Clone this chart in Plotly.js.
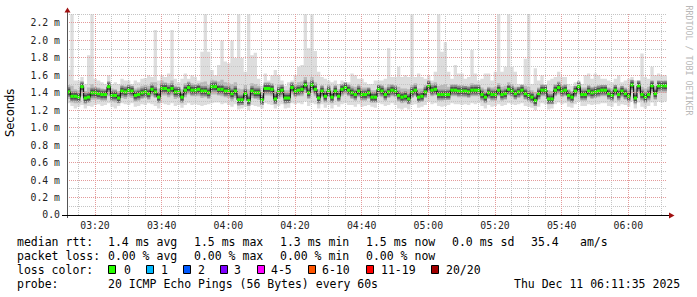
<!DOCTYPE html>
<html><head><meta charset="utf-8">
<script src="https://cdn.plot.ly/plotly-3.0.1.min.js"></script>
<style>html,body{margin:0;padding:0;background:#fff}#chart{width:697px;height:297px}</style>
</head><body><div id="chart"></div>
<script>
// ---- data (ms) : one sample per 60 s, 03:11:36 .. 06:11:36 ----
const startUTC = Date.UTC(2025, 11, 11, 3, 11, 36);
const stepMs = 60000;

const medianRtt = [
1.41,1.36,1.36,1.35,1.47,1.34,1.35,1.40,1.40,1.39,
1.38,1.38,1.47,1.37,1.37,1.34,1.42,1.41,1.43,1.42,
1.37,1.38,1.40,1.41,1.39,1.44,1.41,1.35,1.45,1.45,
1.43,1.45,1.41,1.41,1.35,1.43,1.46,1.43,1.43,1.44,
1.42,1.42,1.40,1.47,1.47,
1.44,1.44,1.42,1.42,1.39,1.42,1.32,1.32,1.39,1.31,
1.42,1.40,1.40,1.32,1.45,1.45,1.44,1.33,1.41,1.43,
1.34,1.34,1.46,1.42,1.43,1.44,1.49,1.40,1.49,1.44,
1.34,1.42,1.36,1.42,1.35,1.42,1.36,1.44,1.46,1.43,
1.40,1.38,1.42,1.38,1.38,
1.40,1.35,1.35,1.44,1.42,1.38,1.41,1.43,1.42,1.37,
1.35,1.36,1.33,1.41,1.43,1.35,1.36,1.41,1.48,1.43,
1.44,1.38,1.38,1.38,1.38,1.43,1.43,1.42,1.42,1.42,
1.41,1.43,1.43,1.43,1.38,1.35,1.40,1.38,1.38,1.43,
1.38,1.39,1.44,1.42,1.39,
1.41,1.43,1.39,1.37,1.35,1.31,1.39,1.43,1.43,1.33,
1.33,1.43,1.46,1.42,1.43,1.37,1.35,1.42,1.47,1.38,
1.38,1.42,1.40,1.41,1.42,1.43,1.43,1.39,1.37,1.43,
1.38,1.42,1.39,1.36,1.49,1.34,1.48,1.38,1.35,1.38,
1.48,1.39,1.48,1.48,1.48
];
const maxRtt = [
1.66,2.30,1.54,1.54,1.58,1.50,1.83,2.30,1.56,1.54,
1.52,1.50,1.60,1.50,1.52,1.50,1.56,1.54,1.54,1.50,
1.54,1.52,1.56,1.57,1.60,1.58,2.12,1.54,1.60,1.58,
1.62,2.12,1.56,1.52,1.56,1.62,1.56,1.60,1.58,1.54,
1.87,2.30,1.87,1.66,1.60,
1.72,2.00,1.76,1.74,2.00,1.80,2.30,1.80,1.64,2.30,
1.83,1.86,1.56,1.48,1.62,1.54,1.60,1.66,1.60,1.54,
1.48,1.52,1.54,1.60,1.70,1.72,2.30,1.91,2.30,1.88,
1.64,1.58,1.56,1.54,1.52,1.54,1.50,1.54,1.50,1.52,
1.62,1.60,1.56,1.56,1.52,
1.50,1.50,1.54,1.54,1.54,1.56,1.91,1.58,1.58,1.70,
1.58,1.60,1.58,2.30,1.58,1.62,1.58,1.56,1.60,1.54,
1.64,2.30,1.87,1.98,1.64,1.56,1.72,1.62,1.62,1.56,
1.58,1.89,1.62,1.54,1.56,1.62,1.62,1.54,1.64,2.30,
1.64,1.70,2.30,1.70,1.64,
1.50,1.50,1.79,2.30,1.50,1.68,1.54,1.60,1.50,1.54,
1.56,1.58,1.64,1.58,1.58,1.50,1.48,1.52,1.54,1.50,
1.60,1.62,1.56,1.62,1.60,1.56,1.56,1.54,1.52,1.56,
1.60,1.52,1.54,1.56,1.58,1.54,1.54,1.85,1.58,1.56,
1.70,1.60,1.62,1.60,1.60
];
const hiRtt = [
1.49,1.48,1.44,1.43,1.53,1.42,1.46,1.50,1.47,1.46,
1.45,1.44,1.53,1.45,1.44,1.42,1.49,1.48,1.50,1.48,
1.45,1.46,1.48,1.49,1.48,1.52,1.52,1.45,1.54,1.52,
1.51,1.54,1.48,1.47,1.44,1.51,1.53,1.51,1.50,1.51,
1.52,1.53,1.49,1.55,1.54,
1.53,1.55,1.52,1.51,1.50,1.52,1.45,1.44,1.49,1.44,
1.51,1.50,1.48,1.41,1.52,1.52,1.51,1.43,1.49,1.50,
1.43,1.43,1.52,1.50,1.52,1.53,1.58,1.52,1.58,1.52,
1.44,1.49,1.45,1.49,1.43,1.49,1.44,1.50,1.52,1.50,
1.48,1.47,1.50,1.46,1.46,
1.46,1.43,1.43,1.50,1.49,1.46,1.50,1.50,1.49,1.47,
1.45,1.45,1.44,1.49,1.51,1.45,1.45,1.49,1.54,1.51,
1.52,1.48,1.49,1.50,1.47,1.50,1.50,1.49,1.49,1.48,
1.48,1.51,1.50,1.49,1.46,1.44,1.47,1.46,1.47,1.51,
1.47,1.48,1.52,1.50,1.47,
1.47,1.49,1.48,1.47,1.43,1.41,1.46,1.50,1.49,1.43,
1.42,1.50,1.53,1.49,1.50,1.44,1.42,1.48,1.52,1.46,
1.46,1.49,1.47,1.48,1.49,1.49,1.49,1.46,1.45,1.49,
1.46,1.48,1.46,1.44,1.55,1.45,1.54,1.47,1.45,1.47,
1.54,1.48,1.54,1.53,1.54
];
const loRtt = [
1.33,1.29,1.28,1.28,1.36,1.27,1.29,1.32,1.32,1.32,
1.31,1.31,1.36,1.30,1.29,1.28,1.34,1.33,1.35,1.34,
1.30,1.31,1.33,1.34,1.32,1.36,1.34,1.28,1.37,1.37,
1.35,1.37,1.33,1.34,1.28,1.35,1.38,1.36,1.36,1.36,
1.34,1.35,1.33,1.38,1.38,
1.37,1.36,1.35,1.34,1.31,1.34,1.25,1.26,1.31,1.25,
1.34,1.33,1.32,1.26,1.37,1.37,1.36,1.27,1.33,1.35,
1.27,1.28,1.38,1.35,1.36,1.36,1.40,1.33,1.40,1.36,
1.27,1.35,1.29,1.35,1.28,1.35,1.30,1.36,1.38,1.36,
1.33,1.31,1.35,1.31,1.31,
1.33,1.29,1.29,1.36,1.35,1.31,1.34,1.36,1.35,1.30,
1.28,1.29,1.27,1.34,1.36,1.29,1.30,1.34,1.40,1.36,
1.37,1.31,1.31,1.32,1.32,1.36,1.36,1.35,1.35,1.35,
1.34,1.36,1.36,1.36,1.31,1.28,1.33,1.31,1.31,1.36,
1.31,1.32,1.37,1.35,1.32,
1.34,1.36,1.32,1.30,1.28,1.25,1.32,1.36,1.36,1.27,
1.27,1.36,1.38,1.35,1.36,1.30,1.28,1.35,1.39,1.31,
1.31,1.35,1.33,1.34,1.35,1.36,1.36,1.32,1.30,1.36,
1.31,1.35,1.32,1.29,1.40,1.27,1.40,1.31,1.28,1.31,
1.40,1.32,1.40,1.40,1.40
];
const minRtt = [
1.28,1.25,1.22,1.24,1.26,1.22,1.25,1.24,1.26,1.27,
1.25,1.26,1.28,1.24,1.22,1.25,1.28,1.27,1.26,1.28,
1.24,1.25,1.27,1.26,1.28,1.27,1.25,1.22,1.28,1.27,
1.26,1.28,1.25,1.26,1.23,1.26,1.28,1.26,1.27,1.26,
1.25,1.26,1.27,1.28,1.29,
1.29,1.27,1.28,1.26,1.24,1.27,1.21,1.22,1.24,1.20,
1.26,1.25,1.24,1.22,1.28,1.27,1.26,1.22,1.25,1.27,
1.22,1.23,1.28,1.27,1.28,1.27,1.30,1.25,1.28,1.27,
1.22,1.27,1.23,1.26,1.22,1.26,1.24,1.27,1.28,1.26,
1.26,1.24,1.27,1.24,1.25,
1.26,1.24,1.23,1.28,1.27,1.25,1.26,1.28,1.26,1.22,
1.21,1.23,1.21,1.26,1.27,1.23,1.24,1.26,1.30,1.27,
1.28,1.25,1.24,1.25,1.26,1.28,1.27,1.27,1.26,1.27,
1.26,1.28,1.27,1.28,1.25,1.22,1.26,1.24,1.25,1.27,
1.25,1.26,1.28,1.27,1.26,
1.27,1.28,1.25,1.24,1.23,1.20,1.24,1.28,1.27,1.21,
1.22,1.27,1.29,1.27,1.28,1.24,1.23,1.27,1.30,1.25,
1.25,1.27,1.26,1.27,1.27,1.28,1.28,1.25,1.24,1.28,
1.25,1.27,1.26,1.24,1.30,1.22,1.29,1.24,1.22,1.25,
1.29,1.25,1.30,1.29,1.30
];

const yTickVals = [0,0.2,0.4,0.6,0.8,1.0,1.2,1.4,1.6,1.8,2.0,2.2];
const yTickText = ['0.0','0.2 m','0.4 m','0.6 m','0.8 m','1.0 m','1.2 m','1.4 m','1.6 m','1.8 m','2.0 m','2.2 m'];
const yMinorVals = [0.1,0.3,0.5,0.7,0.9,1.1,1.3,1.5,1.7,1.9,2.1,2.3];
const xMajorTimes = ['03:20','03:40','04:00','04:20','04:40','05:00','05:20','05:40','06:00'];
const xMinorTimes = ['03:15','03:25','03:30','03:35','03:45','03:50','03:55','04:05','04:10','04:15',
  '04:25','04:30','04:35','04:45','04:50','04:55','05:05','05:10','05:15','05:25','05:30','05:35',
  '05:45','05:50','05:55','06:05','06:10'];

const statLines = [
  {label:'median rtt:', items:['1.4 ms avg','1.5 ms max','1.3 ms min','1.5 ms now','0.0 ms sd','35.4','am/s']},
  {label:'packet loss:', items:['0.00 % avg','0.00 % max','0.00 % min','0.00 % now']}
];
const lossLabels = ['0','1','2','3','4-5','6-10','11-19','20/20'];
const lossColors = ['#26ff00','#00b8ff','#0059ff','#7e00ff','#ff00ff','#ff5500','#ff0000','#a10000'];
const probeText = '20 ICMP Echo Pings (56 Bytes) every 60s';
const stampText = 'Thu Dec 11 06:11:35 2025';

// ---- build ----
const n = medianRtt.length;
const xs = [];
for (let i = 0; i <= n; i++) xs.push(startUTC + i * stepMs);
const ext = a => a.concat([a[a.length - 1]]);
const hm = s => { const p = s.split(':'); return Date.UTC(2025, 11, 11, +p[0], +p[1], 0); };

const gx = [], gy = [];
for (let i = 0; i < n; i++) { gx.push(xs[i], xs[i+1], null); gy.push(medianRtt[i], medianRtt[i], null); }

const step = {shape:'hv', width:0};
const seg = (w, c) => ({x: gx, y: gy, mode:'lines', line:{width:w, color:c}, connectgaps:false, hoverinfo:'skip'});
const traces = [
  {x: xs, y: ext(minRtt), mode:'lines', line: step, fill:'none', hoverinfo:'skip'},
  {x: xs, y: ext(maxRtt), mode:'lines', line: step, fill:'tonexty', fillcolor:'#dddddd', hoverinfo:'skip'},
  {x: xs, y: ext(loRtt), mode:'lines', line: step, fill:'none', hoverinfo:'skip'},
  {x: xs, y: ext(hiRtt), mode:'lines', line: step, fill:'tonexty', fillcolor:'#b9b9b9', hoverinfo:'skip'},
  seg(10, '#8c8c8c'),
  seg(6.5, '#505050'),
  {x: xs, y: ext(medianRtt), mode:'lines', line:{shape:'hv', width:1, color:'#000000'}, hoverinfo:'skip'},
  seg(3, lossColors[0])
];

// pixel <-> paper helpers (plot area: x 67..667, y 14..215)
const L = 67, R = 667, T = 14, B = 215;
const yMax = 2.303;
const px = x => (x - L) / (R - L);
const py = y => (B - y) / (B - T);
const crisp = p => Math.floor(p) + 0.5;
const tPix = t => L + (t - startUTC) / (n * stepMs) * (R - L);
const vPix = v => B - v / yMax * (B - T);

const mono = 'DejaVu Sans Mono';
const ann = [];
function txt(s, x, y, opt) {
  ann.push(Object.assign({text: s, xref:'paper', yref:'paper', x: px(x), y: py(y),
    xanchor:'left', yanchor:'middle', showarrow:false, borderpad:0,
    font:{family: mono, size: 11.5, color:'#000'}}, opt || {}));
}
const colX = [107, 193, 279, 365, 451, 530, 579];
const lineY = [241.5, 255.5, 269.5, 283.5];
statLines.forEach((ln, r) => {
  txt(ln.label, 16, lineY[r]);
  ln.items.forEach((s, k) => txt(s, colX[k], lineY[r]));
});
txt('loss color:', 16, lineY[2]);
const boxX = [108, 146, 183, 220, 257, 308, 366, 431];
const labX = [123, 160, 197, 233, 270, 321, 380, 445];
const shapes = [];
lossLabels.forEach((s, k) => {
  shapes.push({type:'rect', xref:'paper', yref:'paper', x0: px(boxX[k] + 0.5), x1: px(boxX[k] + 7.5),
    y0: py(273.5), y1: py(265.5), fillcolor: lossColors[k], line:{color:'#000', width:1}});
  txt(s, labX[k], lineY[2]);
});
txt('probe:', 16, lineY[3]);
txt(probeText, 107, lineY[3]);
txt(stampText, 513, lineY[3]);

ann.push({text:'Seconds', xref:'paper', yref:'paper', x: px(10), y: py(113), textangle:-90,
  showarrow:false, xanchor:'center', yanchor:'middle', font:{family:'DejaVu Sans', size:11.5, color:'#000'}});
ann.push({text:'RRDTOOL / TOBI OETIKER', xref:'paper', yref:'paper', x: px(688.5), y: py(60), textangle:90,
  showarrow:false, xanchor:'center', yanchor:'middle', font:{family: mono, size:8.3, color:'#b8b8b8'}});

// pixel-aligned dotted grid (drawn above the smoke, like rrdtool)
const majorGrid = '#e39a9a', minorGrid = '#c4c4c4';
function gridPath(vert, vals, toPix) {
  let d = '';
  vals.forEach(v => {
    const p = crisp(toPix(v));
    if (vert) d += `M ${px(p)} ${py(T)} L ${px(p)} ${py(B)} `;
    else d += `M ${px(L)} ${py(p)} L ${px(R)} ${py(p)} `;
  });
  return d;
}
const gridShape = (d, c) => ({type:'path', xref:'paper', yref:'paper', layer:'above', path: d,
  line:{color: c, width: 1, dash:'1px,1px'}});
shapes.push(gridShape(gridPath(true, xMinorTimes.map(hm), tPix), minorGrid));
shapes.push(gridShape(gridPath(false, yMinorVals, vPix), minorGrid));
shapes.push(gridShape(gridPath(true, xMajorTimes.map(hm), tPix), majorGrid));
shapes.push(gridShape(gridPath(false, yTickVals.slice(1), vPix), majorGrid));

// axis lines + arrows
shapes.push({type:'line', xref:'paper', yref:'paper', layer:'above', x0: px(67.5), x1: px(67.5), y0: py(218), y1: py(11), line:{color:'#555', width:1}});
shapes.push({type:'line', xref:'paper', yref:'paper', layer:'above', x0: px(62), x1: px(670), y0: py(215.5), y1: py(215.5), line:{color:'#000', width:1}});
shapes.push({type:'path', xref:'paper', yref:'paper', fillcolor:'#a01010', line:{width:0},
  path: `M ${px(64.5)} ${py(12.5)} L ${px(70.5)} ${py(12.5)} L ${px(67.5)} ${py(7.5)} Z`});
shapes.push({type:'path', xref:'paper', yref:'paper', fillcolor:'#a01010', line:{width:0},
  path: `M ${px(669)} ${py(212.5)} L ${px(669)} ${py(218.5)} L ${px(674.5)} ${py(215.5)} Z`});

const layout = {
  width: 697, height: 297,
  margin: {l: L, r: 697 - R, t: T, b: 297 - B, pad: 0},
  paper_bgcolor:'#ffffff', plot_bgcolor:'#ffffff',
  showlegend:false,
  font:{family: mono, color:'#000'},
  xaxis: {
    type:'date', range:[startUTC, startUTC + n * stepMs],
    tickmode:'array', tickvals: xMajorTimes.map(hm), ticktext: xMajorTimes,
    showgrid:false, showline:false, zeroline:false, ticks:'', ticklabelstandoff: 3,
    tickfont:{family: mono, size: 9.8, color:'#222'}, fixedrange:true
  },
  yaxis: {
    range:[0, yMax], tickmode:'array', tickvals: yTickVals, ticktext: yTickText,
    showgrid:false, showline:false, zeroline:false, ticks:'', ticklabelstandoff: 6,
    tickfont:{family: mono, size: 9.8, color:'#222'}, fixedrange:true
  },
  annotations: ann,
  shapes: shapes
};
Plotly.newPlot('chart', traces, layout, {staticPlot:true, displayModeBar:false});
</script>
</body></html>
